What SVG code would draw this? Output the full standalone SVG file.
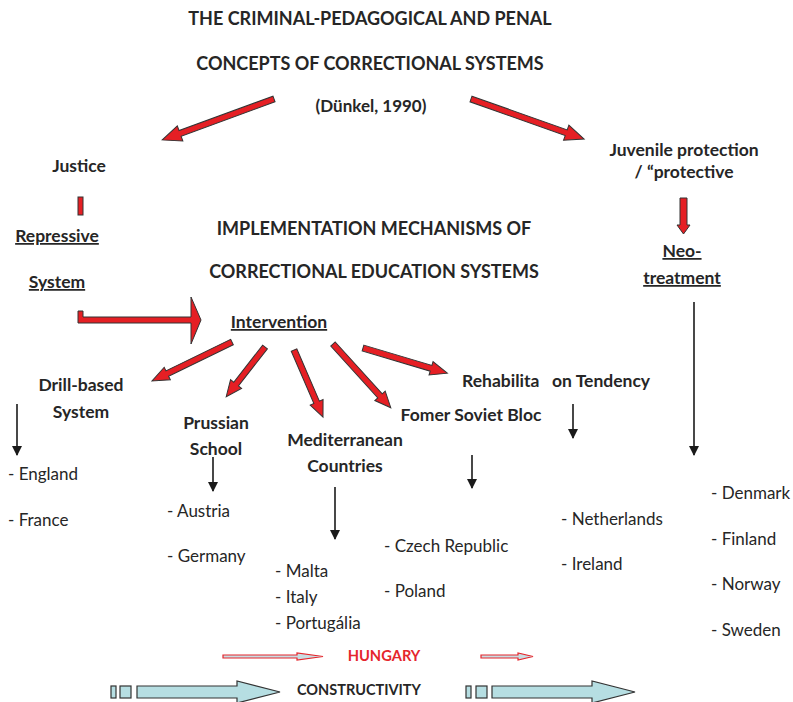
<svg xmlns="http://www.w3.org/2000/svg" width="793" height="702" viewBox="0 0 793 702">
<defs>
<marker id="ah" viewBox="0 0 10 10" refX="9" refY="5" markerWidth="10" markerHeight="10" markerUnits="userSpaceOnUse" orient="auto">
<path d="M0,0 L10,5 L0,10 Z" fill="#1a1a1a"/>
</marker>
<style>
text{font-family:Lato,"Open Sans","Liberation Sans",sans-serif;fill:#262626}
.h{font-weight:bold;font-size:18px}
.b{font-weight:bold;font-size:17.5px}
.u{text-decoration:underline}
.r{font-size:17px}
.red{fill:#e51f24;stroke:#333;stroke-width:1;stroke-linejoin:miter}
.thin{stroke:#1a1a1a;stroke-width:1.6;fill:none}
.pk{fill:#c9dde2;stroke:#e5262c;stroke-width:1.2}
.bl{fill:#b6dee2;stroke:#333;stroke-width:1.2}
</style>
</defs>
<rect width="793" height="702" fill="#fff"/>

<g id="title">
<text class="h" x="370" y="25" text-anchor="middle">THE CRIMINAL-PEDAGOGICAL AND PENAL</text>
<text class="h" x="370" y="70" text-anchor="middle">CONCEPTS OF CORRECTIONAL SYSTEMS</text>
<text class="b" x="371" y="112" text-anchor="middle" style="font-size:17px">(Dünkel, 1990)</text>
</g>
<g id="justice"><text class="b" x="79" y="172" text-anchor="middle">Justice</text></g>
<g id="juvenile">
<text class="b" x="684" y="156" text-anchor="middle">Juvenile protection</text>
<text class="b" x="684" y="178" text-anchor="middle">/ “protective</text>
</g>
<g id="repressive">
<text class="b u" x="57" y="242" text-anchor="middle">Repressive</text>
<text class="b u" x="57" y="288" text-anchor="middle">System</text>
</g>
<g id="impl">
<text class="h" x="374" y="235" text-anchor="middle">IMPLEMENTATION MECHANISMS OF</text>
<text class="h" x="374" y="278" text-anchor="middle">CORRECTIONAL EDUCATION SYSTEMS</text>
</g>
<g id="neo">
<text class="b u" x="682" y="257" text-anchor="middle">Neo-</text>
<text class="b u" x="682" y="284" text-anchor="middle">treatment</text>
</g>
<g id="intervention"><text class="b u" x="279" y="328" text-anchor="middle">Intervention</text></g>
<g id="drill">
<text class="b" x="81" y="391" text-anchor="middle">Drill-based</text>
<text class="b" x="81" y="418" text-anchor="middle">System</text>
<text class="r" x="8" y="480">- England</text>
<text class="r" x="8" y="526">- France</text>
</g>
<g id="prussian">
<text class="b" x="216" y="429" text-anchor="middle">Prussian</text>
<text class="b" x="216" y="455" text-anchor="middle">School</text>
<text class="r" x="167" y="517">- Austria</text>
<text class="r" x="167" y="562">- Germany</text>
</g>
<g id="mediterranean">
<text class="b" x="345" y="446" text-anchor="middle">Mediterranean</text>
<text class="b" x="345" y="472" text-anchor="middle">Countries</text>
<text class="r" x="275" y="577">- Malta</text>
<text class="r" x="275" y="603">- Italy</text>
<text class="r" x="275" y="629">- Portugália</text>
</g>
<g id="soviet">
<text class="b" x="471" y="421" text-anchor="middle">Fomer Soviet Bloc</text>
<text class="r" x="384" y="552">- Czech Republic</text>
<text class="r" x="384" y="597">- Poland</text>
</g>
<g id="rehab">
<text class="b" x="462" y="387">Rehabilita</text>
<text class="b" x="552" y="387">on Tendency</text>
<text class="r" x="561" y="525">- Netherlands</text>
<text class="r" x="561" y="570">- Ireland</text>
</g>
<g id="nordic">
<text class="r" x="711" y="499">- Denmark</text>
<text class="r" x="711" y="545">- Finland</text>
<text class="r" x="711" y="590">- Norway</text>
<text class="r" x="711" y="636">- Sweden</text>
</g>
<g id="hungary"><text x="384" y="661" text-anchor="middle" style="font-weight:bold;font-size:14.7px;fill:#e5262c">HUNGARY</text></g>
<g id="constructivity"><text x="359" y="695" text-anchor="middle" style="font-weight:bold;font-size:14.5px">CONSTRUCTIVITY</text></g>

<g id="connectors">
<path class="red" transform="translate(274,99) rotate(159.9)" d="M0,-3 H100 V-8 L119,0 L100,8 V3 H0 Z"/>
<path class="red" transform="translate(471,99) rotate(19.5)" d="M0,-3 H101 V-8 L120,0 L101,8 V3 H0 Z"/>
<rect class="red" x="78" y="197" width="5" height="18"/>
<path class="red" d="M78,311 H83 V317 H191 V297 L201,320 L191,344 V323 H78 Z"/>
<path class="red" d="M680,198 H687 V225 H690 L683.5,234 L677,225 H680 Z"/>
<path class="red" transform="translate(232,342) rotate(154)" d="M0,-3 H72 V-7 L89,0 L72,7 V3 H0 Z"/>
<path class="red" transform="translate(265,347) rotate(128)" d="M0,-3 H47 V-7 L63,0 L47,7 V3 H0 Z"/>
<path class="red" transform="translate(294,350) rotate(66.6)" d="M0,-3 H57 V-7 L73,0 L57,7 V3 H0 Z"/>
<path class="red" transform="translate(333,344) rotate(47.8)" d="M0,-3 H70 V-7 L86,0 L70,7 V3 H0 Z"/>
<path class="red" transform="translate(363,348) rotate(16.6)" d="M0,-3 H71 V-7 L88,0 L71,7 V3 H0 Z"/>
<line class="thin" x1="17" y1="404" x2="17" y2="455" marker-end="url(#ah)"/>
<line class="thin" x1="213" y1="457" x2="213" y2="491" marker-end="url(#ah)"/>
<line class="thin" x1="335" y1="487" x2="335" y2="539" marker-end="url(#ah)"/>
<line class="thin" x1="472" y1="455" x2="472" y2="488" marker-end="url(#ah)"/>
<line class="thin" x1="573" y1="404" x2="573" y2="438" marker-end="url(#ah)"/>
<line class="thin" x1="694" y1="302" x2="694" y2="455" marker-end="url(#ah)"/>
<path class="pk" d="M223,655 H297 V653 L323,656.5 L297,660 V658 H223 Z"/>
<path class="pk" d="M481,655 H518 V653 L533,656.5 L518,660 V658 H481 Z"/>
<rect class="bl" x="111" y="686" width="5" height="12"/>
<rect class="bl" x="120" y="686" width="11" height="12"/>
<path class="bl" d="M137,686 H237 V681 L280,692 L237,703 V698 H137 Z"/>
<rect class="bl" x="466" y="686" width="5" height="12"/>
<rect class="bl" x="476" y="686" width="11" height="12"/>
<path class="bl" d="M492,686 H592 V681 L635,692 L592,703 V698 H492 Z"/>
</g>
</svg>
